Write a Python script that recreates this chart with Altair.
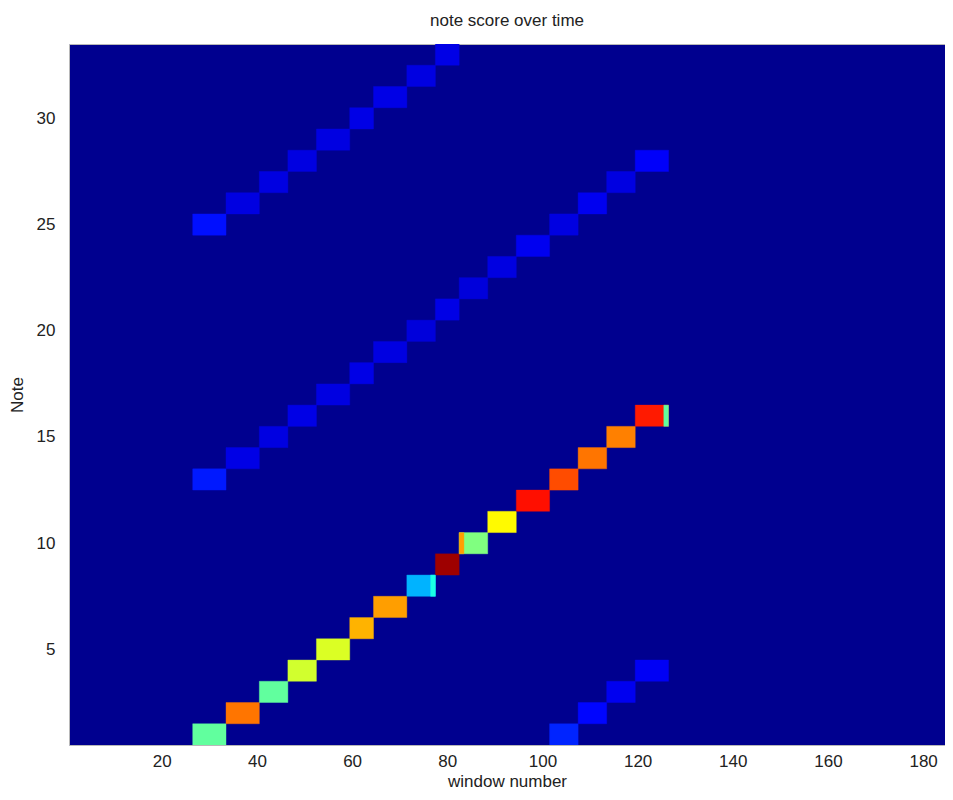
import altair as alt
import pandas as pd

# ---- data ----
# main note trajectory: note, first window, last window, score (0..1 on jet scale)
main_notes = [1, 2, 3, 4, 5, 6, 7, 8, 9, 10, 11, 12, 13, 14, 15, 16]
main_start = [27, 34, 41, 47, 53, 60, 65, 72, 78, 83, 89, 95, 102, 108, 114, 120]
main_end = [33, 40, 46, 52, 59, 64, 71, 77, 82, 88, 94, 101, 107, 113, 119, 126]
main_score = [0.47, 0.76, 0.47, 0.58, 0.59, 0.70, 0.72, 0.30, 0.97, 0.50, 0.63, 0.86, 0.80, 0.76, 0.75, 0.85]

# single-window accents inside the main trajectory
accent_note = [8, 10, 16]
accent_window = [77, 83, 126]
accent_score = [0.40, 0.72, 0.47]

# octave-above echo (notes 13..28), same windows as main notes 1..16
up12_notes = [13, 14, 15, 16, 17, 18, 19, 20, 21, 22, 23, 24, 25, 26, 27, 28]
up12_score = [0.15, 0.10, 0.095, 0.10, 0.095, 0.10, 0.095, 0.09, 0.10, 0.09, 0.095, 0.11, 0.095, 0.11, 0.095, 0.12]

# two-octave echo (notes 25..33), same windows as main notes 1..9
up24_notes = [25, 26, 27, 28, 29, 30, 31, 32, 33]
up24_score = [0.14, 0.095, 0.095, 0.095, 0.095, 0.10, 0.10, 0.095, 0.10]

# octave-below echo (notes 1..4), same windows as main notes 13..16
down12_notes = [1, 2, 3, 4]
down12_score = [0.16, 0.13, 0.11, 0.115]

x_ticks = [20, 40, 60, 80, 100, 120, 140, 160, 180]
y_ticks = [5, 10, 15, 20, 25, 30]

jet_stops = [0, 0.125, 0.375, 0.625, 0.875, 1]
jet_colors = ["#000080", "#0000ff", "#00ffff", "#ffff00", "#ff0000", "#800000"]
background_color = "#00008f"

# ---- build table ----
rows = []


def add(note, s, e, v):
    rows.append({"n0": note - 0.5, "n1": note + 0.5, "w0": s - 0.5, "w1": e + 0.5, "score": v})


for n, v in zip(up12_notes, up12_score):
    i = n - 13
    add(n, main_start[i], main_end[i], v)
for n, v in zip(up24_notes, up24_score):
    i = n - 25
    add(n, main_start[i], main_end[i], v)
for n, v in zip(down12_notes, down12_score):
    i = n + 11
    add(n, main_start[i], main_end[i], v)
for n, s, e, v in zip(main_notes, main_start, main_end, main_score):
    add(n, s, e, v)
for n, w, v in zip(accent_note, accent_window, accent_score):
    add(n, w, w, v)

df = pd.DataFrame(rows)

font = "Liberation Sans"
color_scale = alt.Scale(domain=jet_stops, range=jet_colors, interpolate="rgb")

chart = alt.Chart(df).mark_rect(clip=True, strokeWidth=0.4).encode(
    x=alt.X("w0:Q",
            scale=alt.Scale(domain=[0.5, 184.6], nice=False, zero=False),
            axis=alt.Axis(values=x_ticks, title="window number", labelPadding=8,
                          titlePadding=4)),
    x2="w1:Q",
    y=alt.Y("n0:Q",
            scale=alt.Scale(domain=[0.5, 33.5], nice=False, zero=False),
            axis=alt.Axis(values=y_ticks, title="Note", labelPadding=14,
                          titlePadding=10)),
    y2="n1:Q",
    color=alt.Color("score:Q", scale=color_scale, legend=None),
    stroke=alt.Stroke("score:Q", scale=color_scale, legend=None),
).properties(
    width=876,
    height=701,
    autosize="none",
    padding={"left": 61, "top": 36, "right": 0, "bottom": 47},
    title=alt.Title("note score over time", fontSize=17, fontWeight="normal",
                    font=font, color="#222222", offset=14),
).configure_view(
    fill=background_color, stroke="#b8b8b8", strokeWidth=1
).configure_axis(
    labelFont=font, titleFont=font, labelFontSize=17, titleFontSize=17,
    titleFontWeight="normal", labelColor="#222222", titleColor="#222222",
    ticks=False, domain=False, grid=False,
)

chart.save("out.html", embed_options={"renderer": "svg", "actions": False})
